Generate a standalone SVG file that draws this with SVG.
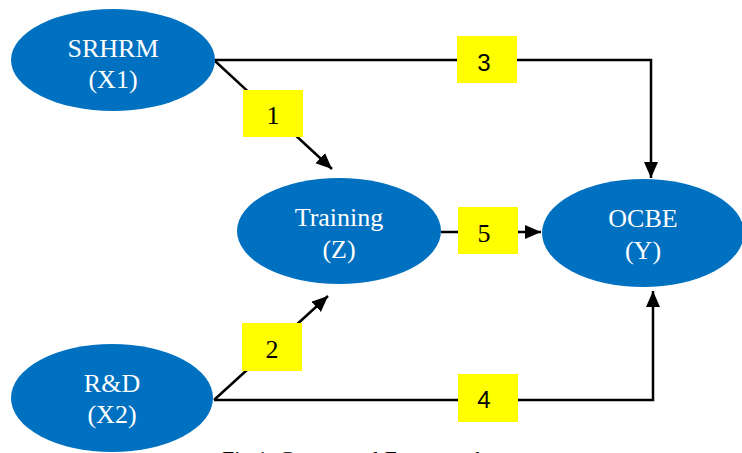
<svg xmlns="http://www.w3.org/2000/svg" width="742" height="453" viewBox="0 0 742 453">
<defs>
<style>
.node{fill:#0070C0}
.nt{fill:#ffffff;font-family:"Liberation Serif","Times New Roman",serif;font-size:26px;text-anchor:middle}
.edge{stroke:#000;stroke-width:2.5;fill:none}
.box{fill:#FFFF00}
.ser{font-family:"Liberation Serif","Times New Roman",serif;font-size:26px;text-anchor:middle;fill:#000}
.san{font-family:"Liberation Sans",Arial,sans-serif;font-size:24px;text-anchor:middle;fill:#000}
</style>
<marker id="ah" markerUnits="userSpaceOnUse" markerWidth="18" markerHeight="16" refX="16" refY="7" orient="auto">
<path d="M0,0 L16,7 L0,14 Z" fill="#000"/>
</marker>
</defs>
<rect width="742" height="453" fill="#fff"/>
<g id="connectors">
<polyline class="edge" points="215,60 651,60 651,178" marker-end="url(#ah)"/>
<line class="edge" x1="215" y1="61" x2="332" y2="169" marker-end="url(#ah)"/>
<line class="edge" x1="214" y1="400" x2="328" y2="296" marker-end="url(#ah)"/>
<line class="edge" x1="441" y1="232" x2="541" y2="232" marker-end="url(#ah)"/>
<polyline class="edge" points="214,400 653,400 653,291" marker-end="url(#ah)"/>
</g>
<g id="label1"><rect class="box" x="243" y="90" width="60" height="47"/><text class="ser" x="273" y="124">1</text></g>
<g id="label2"><rect class="box" x="242" y="323" width="60" height="48"/><text class="ser" x="272" y="358">2</text></g>
<g id="label3"><rect class="box" x="457" y="36" width="60" height="47"/><text class="san" x="484" y="71">3</text></g>
<g id="label4"><rect class="box" x="458" y="374" width="60" height="48"/><text class="san" x="484" y="408">4</text></g>
<g id="label5"><rect class="box" x="458" y="207" width="60" height="47"/><text class="ser" x="484" y="242">5</text></g>
<g id="srhrm"><ellipse class="node" cx="113" cy="60" rx="102" ry="51"/><text class="nt" x="113" y="57">SRHRM</text><text class="nt" x="113" y="88">(X1)</text></g>
<g id="rd"><ellipse class="node" cx="112" cy="398" rx="101" ry="54"/><text class="nt" x="112" y="392">R&amp;D</text><text class="nt" x="112" y="423">(X2)</text></g>
<g id="training"><ellipse class="node" cx="339" cy="231" rx="102" ry="53"/><text class="nt" x="339" y="226">Training</text><text class="nt" x="339" y="258">(Z)</text></g>
<g id="ocbe"><ellipse class="node" cx="643" cy="233" rx="101" ry="54"/><text class="nt" x="643" y="227">OCBE</text><text class="nt" x="643" y="259">(Y)</text></g>
<text x="222" y="466" font-family="Liberation Serif,Times New Roman,serif" font-size="22" fill="#000">Fig 1. Conceptual Framework</text>
</svg>
